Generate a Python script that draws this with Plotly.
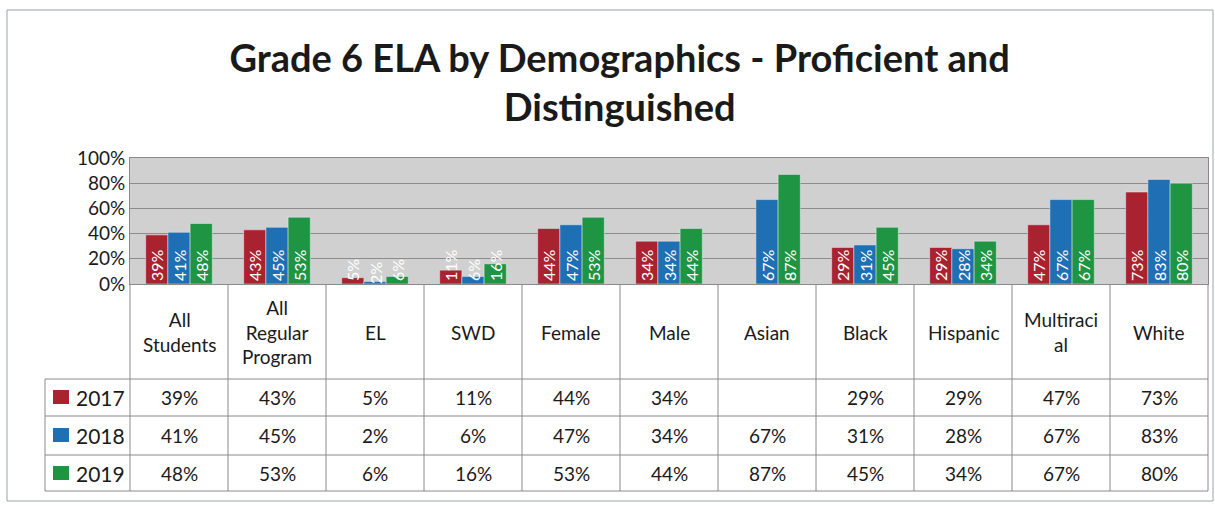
import plotly.graph_objects as go

# dados
categorias = ["All Students", "All Regular Program", "EL", "SWD", "Female", "Male",
              "Asian", "Black", "Hispanic", "Multiracial", "White"]
rotulos_cab = ["All<br>Students", "All<br>Regular<br>Program", "EL", "SWD", "Female", "Male",
               "Asian", "Black", "Hispanic", "Multiraci<br>al", "White"]
anos = ["2017", "2018", "2019"]
v2017 = [39, 43, 5, 11, 44, 34, None, 29, 29, 47, 73]
v2018 = [41, 45, 2, 6, 47, 34, 67, 31, 28, 67, 83]
v2019 = [48, 53, 6, 16, 53, 44, 87, 45, 34, 67, 80]
valores = [v2017, v2018, v2019]
cores = ["#a8232f", "#1f6fb5", "#1f9442"]

FONTE = "Lato"
W, H = 1215, 506
# area do grafico em pixels
L, R, T, B = 130, 1208, 158, 284


def px_x(x):
    return (x - L) / (R - L)


def px_y(y):
    return (B - y) / (B - T)


fig = go.Figure()
for ano, vals, cor in zip(anos, valores, cores):
    fig.add_trace(go.Bar(
        x=categorias, y=vals, name=ano, marker_color=cor,
        text=[f"{v}%" if v is not None else "" for v in vals],
        textposition="inside", insidetextanchor="start", textangle=-90,
        constraintext="none",
        textfont=dict(color="white", size=16, family=FONTE),
    ))

shapes = []
anns = []
n = len(categorias)
linha = dict(color="#8a8a8a", width=1)

# linhas da tabela
lin_y = [379, 416, 455, 491]
for i in range(n + 1):
    shapes.append(dict(type="line", xref="paper", yref="paper", x0=i / n, x1=i / n,
                       y0=px_y(B), y1=px_y(491), line=linha))
shapes.append(dict(type="line", xref="paper", yref="paper", x0=px_x(45), x1=px_x(45),
                   y0=px_y(379), y1=px_y(491), line=linha))
for yy in lin_y:
    shapes.append(dict(type="line", xref="paper", yref="paper", x0=px_x(45), x1=1,
                       y0=px_y(yy), y1=px_y(yy), line=linha))

txt = dict(xref="paper", yref="paper", showarrow=False, xanchor="center", yanchor="middle")

# cabecalho
for i, rot in enumerate(rotulos_cab):
    anns.append(dict(txt, x=(i + 0.5) / n, y=px_y(332), text=rot,
                     font=dict(size=19, family=FONTE, color="#1a1a1a")))

# linhas de valores + legenda
centros = [397, 435, 473]
for ano, vals, cor, cy in zip(anos, valores, cores, centros):
    shapes.append(dict(type="rect", xref="paper", yref="paper",
                       x0=px_x(53), x1=px_x(69), y0=px_y(cy - 7), y1=px_y(cy + 7),
                       fillcolor=cor, line=dict(width=0)))
    anns.append(dict(txt, x=px_x(74), y=px_y(cy), xanchor="left", text=ano,
                     font=dict(size=21, family=FONTE, color="#1a1a1a")))
    for i, v in enumerate(vals):
        if v is None:
            continue
        anns.append(dict(txt, x=(i + 0.5) / n, y=px_y(cy), text=f"{v}%",
                         font=dict(size=19, family=FONTE, color="#1a1a1a")))

# moldura externa
shapes.append(dict(type="rect", xref="paper", yref="paper", x0=px_x(7), x1=px_x(1213),
                   y0=px_y(501), y1=px_y(10), line=dict(color="#9aa4aa", width=1)))

fig.update_layout(
    width=W, height=H,
    margin=dict(l=L, r=W - R, t=T, b=H - B),
    paper_bgcolor="white", plot_bgcolor="#d0d0d0",
    barmode="group", bargap=0.32, bargroupgap=0,
    showlegend=False,
    title=dict(text="<b>Grade 6 ELA by Demographics - Proficient and<br>Distinguished</b>",
               x=0.51, xanchor="center", yref="container", y=1 - 72 / H, yanchor="top",
               font=dict(size=38, family=FONTE, color="#1a1a1a")),
    xaxis=dict(showticklabels=False, showgrid=False, zeroline=False,
               showline=True, linecolor="#8a8a8a", mirror=True),
    yaxis=dict(range=[0, 100], dtick=20, ticksuffix="%", showgrid=True,
               gridcolor="#8c8c8c", gridwidth=1, zeroline=False,
               tickfont=dict(size=19, family=FONTE, color="#1a1a1a"),
               showline=True, linecolor="#8a8a8a", mirror=True, ticks=""),
    shapes=shapes, annotations=anns,
)

# tira a margem do body pra figura ficar no canto
fig.write_html("out.html", config={"displayModeBar": False},
               post_script="document.body.style.margin='0';document.body.style.padding='0';")
